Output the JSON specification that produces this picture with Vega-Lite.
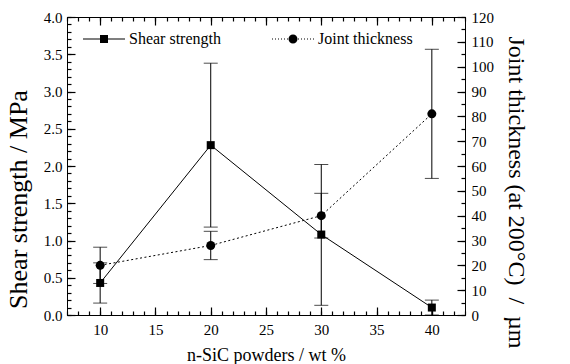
{
  "$schema": "https://vega.github.io/schema/vega-lite/v6.json",
  "width": 398,
  "height": 298,
  "autosize": {"type": "none"},
  "padding": {"left": 67, "top": 17, "right": 105, "bottom": 49},
  "background": "white",
  "config": {
    "view": {"stroke": "black", "strokeWidth": 1},
    "font": "Liberation Serif"
  },
  "datasets": {
    "shear": [
      {"series": "Shear strength", "x": 10, "val": 0.43, "lo": 0.16, "hi": 0.70},
      {"series": "Shear strength", "x": 20, "val": 2.28, "lo": 1.18, "hi": 3.38},
      {"series": "Shear strength", "x": 30, "val": 1.08, "lo": 0.13, "hi": 2.02},
      {"series": "Shear strength", "x": 40, "val": 0.10, "lo": 0.0, "hi": 0.20}
    ],
    "joint": [
      {"series": "Joint thickness", "x": 10, "val": 20, "lo": 12.7, "hi": 27.3},
      {"series": "Joint thickness", "x": 20, "val": 28, "lo": 22.3, "hi": 33.7},
      {"series": "Joint thickness", "x": 30, "val": 40, "lo": 31, "hi": 49},
      {"series": "Joint thickness", "x": 40, "val": 81, "lo": 55, "hi": 107}
    ]
  },
  "layer": [
    {
      "data": {"name": "shear"},
      "mark": {"type": "line", "color": "black", "strokeWidth": 1},
      "encoding": {
        "x": {
          "field": "x", "type": "quantitative",
          "scale": {"domain": [7, 43], "nice": false, "zero": false},
          "axis": {
            "orient": "bottom", "title": "n-SiC powders / wt %", "domain": false, "ticks": false, "zindex": 1,
            "grid": true, "gridColor": "black", "gridOpacity": 1, "gridWidth": 1.2, "gridDash": [8, 282, 8, 1000],
            "titleFont": "Liberation Serif", "titleFontSize": 18, "titleFontWeight": "normal", "titleColor": "black",
            "tickCount": 7, "labelPadding": 7, "labelFont": "Liberation Serif", "labelFontSize": 15, "labelColor": "black",
            "labelFlush": false, "labelOverlap": false,
            "titleX": 199, "titleY": 40, "titleBaseline": "middle", "titleAlign": "center"
          }
        },
        "y": {
          "field": "val", "type": "quantitative",
          "scale": {"domain": [0, 4], "nice": false, "zero": false},
          "axis": {
            "orient": "left", "title": "Shear strength / MPa", "domain": false, "ticks": false, "zindex": 1,
            "grid": true, "gridColor": "black", "gridOpacity": 1, "gridWidth": 1.2, "gridDash": [8, 1000],
            "titleFont": "Liberation Serif", "titleFontSize": 26, "titleFontWeight": "normal", "titleColor": "black",
            "tickCount": 8, "format": ".1f",
            "labelPadding": 5, "labelFont": "Liberation Serif", "labelFontSize": 15, "labelColor": "black",
            "labelFlush": false, "labelOverlap": false,
            "titleX": -49, "titleY": 182, "titleAngle": -90, "titleAlign": "center", "titleBaseline": "middle"
          }
        }
      }
    },
    {
      "data": {"name": "shear"},
      "mark": {"type": "errorbar", "color": "black", "thickness": 1, "ticks": {"size": 14}},
      "encoding": {
        "x": {
          "field": "x", "type": "quantitative",
          "scale": {"domain": [7, 43], "nice": false, "zero": false},
          "axis": {"orient": "bottom", "title": null, "labels": false, "domain": false, "ticks": false, "tickCount": 36, "zindex": 1,
                   "grid": true, "gridColor": "black", "gridOpacity": 1, "gridWidth": 1.2, "gridDash": [4, 290, 4, 1000]}
        },
        "y": {
          "field": "lo", "type": "quantitative",
          "scale": {"domain": [0, 4], "nice": false, "zero": false},
          "axis": {"orient": "left", "title": null, "labels": false, "domain": false, "ticks": false, "tickCount": 40, "zindex": 1,
                   "grid": true, "gridColor": "black", "gridOpacity": 1, "gridWidth": 1.2, "gridDash": [4, 1000]}
        },
        "y2": {"field": "hi"}
      }
    },
    {
      "data": {"name": "shear"},
      "mark": {"type": "point", "filled": true, "color": "black", "opacity": 1, "size": 64, "shape": "square"},
      "encoding": {
        "x": {
          "field": "x", "type": "quantitative",
          "scale": {"domain": [7, 43], "nice": false, "zero": false},
          "axis": {"orient": "bottom", "title": null, "labels": false, "ticks": false, "grid": false, "domain": true, "domainColor": "black", "domainWidth": 1}
        },
        "y": {
          "field": "val", "type": "quantitative",
          "scale": {"domain": [0, 4], "nice": false, "zero": false},
          "axis": {"orient": "left", "title": null, "labels": false, "ticks": false, "grid": false, "domain": true, "domainColor": "black", "domainWidth": 1}
        }
      }
    },
    {
      "data": {"name": "joint"},
      "mark": {"type": "line", "color": "black", "strokeWidth": 1, "strokeDash": [2, 2.5]},
      "encoding": {
        "x": {
          "field": "x", "type": "quantitative",
          "scale": {"domain": [7, 43], "nice": false, "zero": false},
          "axis": null
        },
        "y": {
          "field": "val", "type": "quantitative",
          "scale": {"domain": [0, 120], "nice": false, "zero": false},
          "axis": {
            "orient": "right", "title": "Joint thickness (at 200°C)\u00a0 /\u00a0 µm", "domain": false, "ticks": false, "zindex": 1,
            "grid": true, "gridColor": "black", "gridOpacity": 1, "gridWidth": 1.2, "gridDash": [8, 1000],
            "titleFont": "Liberation Serif", "titleFontSize": 24, "titleFontWeight": "normal", "titleColor": "black",
            "tickCount": 12, "labelPadding": 6, "labelFont": "Liberation Serif", "labelFontSize": 15, "labelColor": "black",
            "labelFlush": false, "labelOverlap": false,
            "titleX": 50, "titleY": 175, "titleAngle": 90, "titleAlign": "center", "titleBaseline": "middle"
          }
        }
      }
    },
    {
      "data": {"name": "joint"},
      "mark": {"type": "errorbar", "color": "black", "thickness": 1, "ticks": {"size": 14}},
      "encoding": {
        "x": {
          "field": "x", "type": "quantitative",
          "scale": {"domain": [7, 43], "nice": false, "zero": false},
          "axis": null
        },
        "y": {
          "field": "lo", "type": "quantitative",
          "scale": {"domain": [0, 120], "nice": false, "zero": false},
          "axis": {"orient": "right", "title": null, "labels": false, "domain": false, "ticks": false, "tickCount": 24, "zindex": 1,
                   "grid": true, "gridColor": "black", "gridOpacity": 1, "gridWidth": 1.2, "gridDash": [4, 1000]}
        },
        "y2": {"field": "hi"}
      }
    },
    {
      "data": {"name": "joint"},
      "mark": {"type": "point", "filled": true, "color": "black", "opacity": 1, "size": 81, "shape": "circle"},
      "encoding": {
        "x": {
          "field": "x", "type": "quantitative",
          "scale": {"domain": [7, 43], "nice": false, "zero": false},
          "axis": {"orient": "top", "title": null, "labels": false, "ticks": false, "grid": false, "domain": true, "domainColor": "black", "domainWidth": 1}
        },
        "y": {
          "field": "val", "type": "quantitative",
          "scale": {"domain": [0, 120], "nice": false, "zero": false},
          "axis": {"orient": "right", "title": null, "labels": false, "ticks": false, "grid": false, "domain": true, "domainColor": "black", "domainWidth": 1}
        }
      }
    },
    {
      "data": {"name": "shear"},
      "transform": [{"filter": "datum.x > 1000"}],
      "mark": {"type": "point", "filled": true, "color": "black", "opacity": 1, "size": 64},
      "encoding": {
        "x": {"field": "x", "type": "quantitative", "scale": {"domain": [7, 43], "nice": false, "zero": false}, "axis": null},
        "y": {"field": "val", "type": "quantitative", "scale": {"domain": [0, 4], "nice": false, "zero": false}, "axis": null},
        "shape": {
          "field": "series", "type": "nominal",
          "scale": {
            "domain": ["Shear strength", "Joint thickness"],
            "range": [
              "M-5.25,-0.12L-1,-0.12L-1,0.12L-5.25,0.12ZM1,-0.12L5.25,-0.12L5.25,0.12L1,0.12ZM-1,-1L1,-1L1,1L-1,1Z",
              "M-5.25,-0.12L-5,-0.12L-5,0.12L-5.25,0.12ZM-4.5,-0.12L-4.25,-0.12L-4.25,0.12L-4.5,0.12ZM-3.75,-0.12L-3.5,-0.12L-3.5,0.12L-3.75,0.12ZM-3,-0.12L-2.75,-0.12L-2.75,0.12L-3,0.12ZM-2.25,-0.12L-2,-0.12L-2,0.12L-2.25,0.12ZM-1.5,-0.12L-1.25,-0.12L-1.25,0.12L-1.5,0.12ZM1.25,-0.12L1.5,-0.12L1.5,0.12L1.25,0.12ZM2,-0.12L2.25,-0.12L2.25,0.12L2,0.12ZM2.75,-0.12L3,-0.12L3,0.12L2.75,0.12ZM3.5,-0.12L3.75,-0.12L3.75,0.12L3.5,0.12ZM4.25,-0.12L4.5,-0.12L4.5,0.12L4.25,0.12ZM5,-0.12L5.25,-0.12L5.25,0.12L5,0.12ZM1.125,0A1.125,1.125,0,1,1,-1.125,0A1.125,1.125,0,1,1,1.125,0Z"
            ]
          },
          "legend": {
            "orient": "none", "legendX": 29, "legendY": 14, "direction": "horizontal",
            "title": null, "symbolSize": 64, "labelFontSize": 16, "labelFont": "Liberation Serif",
            "labelColor": "black", "labelOffset": 17, "columnPadding": 48, "padding": 0,
            "symbolFillColor": "black", "symbolOpacity": 1
          }
        }
      }
    }
  ],
  "resolve": {"scale": {"x": "independent", "y": "independent"}}
}
